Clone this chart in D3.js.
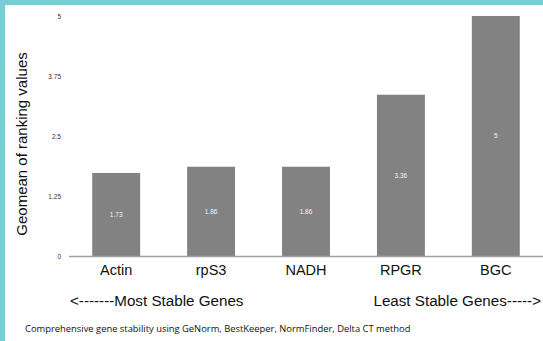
<!DOCTYPE html>
<html>
<head>
<meta charset="utf-8">
<script src="https://cdn.jsdelivr.net/npm/d3@7"></script>
<style>
  body { margin: 0; background: #7cc9d2; }
  svg { display: block; }
</style>
</head>
<body>
<div id="chart"></div>
<script>
var genes = ["Actin", "rpS3", "NADH", "RPGR", "BGC"];
var geomean = [1.73, 1.86, 1.86, 3.36, 5];
var valueLabels = ["1.73", "1.86", "1.86", "3.36", "5"];
var yTicks = [0, 1.25, 2.5, 3.75, 5];
var yTickLabels = ["0", "1.25", "2.5", "3.75", "5"];

var W = 543, H = 341;

var svg = d3.select("#chart").append("svg")
    .attr("width", W)
    .attr("height", H);

// teal frame, white panel
svg.append("rect").attr("width", W).attr("height", H).attr("fill", "#7ccbd3");
svg.append("rect").attr("x", 5).attr("y", 5).attr("width", W - 5).attr("height", H - 5).attr("fill", "#fff");

////// Scales //////
var xScale = d3.scaleBand()
    .domain(genes)
    .range([68.5, 543.5])
    .paddingInner(0.495)
    .paddingOuter(0.25);

var yScale = d3.scaleLinear()
    .domain([0, 5])
    .range([256, 16]);

////// Y tick labels (no axis line) //////
var yAxis = d3.axisLeft(yScale)
    .tickValues(yTicks)
    .tickFormat(function(d, i) { return yTickLabels[i]; })
    .tickSize(0)
    .tickPadding(0);

var gy = svg.append("g")
    .attr("transform", "translate(61,0)")
    .call(yAxis);
gy.select(".domain").remove();
gy.selectAll("text")
    .attr("font-family", "Liberation Sans, Arial, sans-serif")
    .attr("font-size", "6.5px")
    .attr("fill", "#333");

////// Bars //////
svg.append("g")
    .selectAll("rect")
    .data(geomean)
    .enter()
    .append("rect")
    .attr("x", function(d, i) { return xScale(genes[i]); })
    .attr("y", function(d) { return yScale(d); })
    .attr("width", xScale.bandwidth())
    .attr("height", function(d) { return yScale(0) - yScale(d); })
    .attr("fill", "#828282");

// value labels in the middle of each bar
svg.append("g")
    .selectAll("text")
    .data(geomean)
    .enter()
    .append("text")
    .attr("x", function(d, i) { return xScale(genes[i]) + xScale.bandwidth() / 2; })
    .attr("y", function(d) { return (yScale(d) + yScale(0)) / 2; })
    .attr("dy", "0.35em")
    .attr("text-anchor", "middle")
    .attr("font-family", "Liberation Sans, Arial, sans-serif")
    .attr("font-size", "6.5px")
    .attr("fill", "#f2f2f2")
    .text(function(d, i) { return valueLabels[i]; });

// baseline
svg.append("line")
    .attr("x1", 69).attr("x2", 543)
    .attr("y1", yScale(0) + 0.5).attr("y2", yScale(0) + 0.5)
    .attr("stroke", "#a0a0a0")
    .attr("stroke-width", 1.5);

////// X category labels //////
var xAxis = d3.axisBottom(xScale).tickSize(0).tickPadding(0);
var gx = svg.append("g")
    .attr("transform", "translate(0,265)")
    .call(xAxis);
gx.select(".domain").remove();
gx.selectAll("text")
    .attr("font-family", "Liberation Sans, Arial, sans-serif")
    .attr("font-size", "14.5px")
    .attr("fill", "#111");

////// Axis title //////
svg.append("text")
    .attr("transform", "translate(27,144) rotate(-90)")
    .attr("text-anchor", "middle")
    .attr("font-family", "Liberation Sans, Arial, sans-serif")
    .attr("font-size", "15px")
    .attr("fill", "#111")
    .text("Geomean of ranking values");

////// Stability arrows //////
svg.append("text")
    .attr("x", 70).attr("y", 306)
    .attr("font-family", "Liberation Sans, Arial, sans-serif")
    .attr("font-size", "15.2px")
    .attr("fill", "#111")
    .text("<-------Most Stable Genes");

svg.append("text")
    .attr("x", 541).attr("y", 306)
    .attr("text-anchor", "end")
    .attr("font-family", "Liberation Sans, Arial, sans-serif")
    .attr("font-size", "15.2px")
    .attr("fill", "#111")
    .text("Least Stable Genes----->");

////// Caption //////
svg.append("text")
    .attr("x", 25).attr("y", 332)
    .attr("font-family", "Open Sans, sans-serif")
    .attr("font-size", "9.4px")
    .attr("fill", "#111")
    .text("Comprehensive gene stability using GeNorm, BestKeeper, NormFinder, Delta CT method");
</script>
</body>
</html>
